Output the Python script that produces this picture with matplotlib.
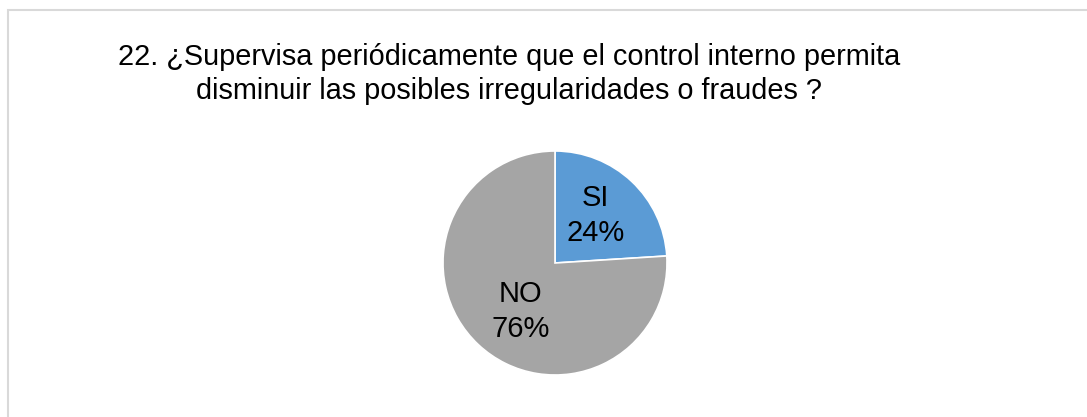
import matplotlib
matplotlib.use('Agg')
import matplotlib.pyplot as plt
from matplotlib.patches import Rectangle

plt.rcParams['font.family'] = ['Liberation Sans', 'DejaVu Sans']

# datos
categorias = ['SI', 'NO']
porcentajes = [24, 76]
colores = ['#5B9BD5', '#A5A5A5']
titulo = ['22. ¿Supervisa periódicamente que el control interno permita',
          'disminuir las posibles irregularidades o fraudes ?']

# posicion de cada etiqueta dentro del pastel (unidades del radio)
pos_etiquetas = [(0.36, 0.42), (-0.31, -0.43)]

W, H = 1087, 417
fig = plt.figure(figsize=(W / 100, H / 100), dpi=100)

# marco gris claro del area del grafico
fig.patches.append(Rectangle((8 / W, -0.1), 1.2, 1 - 10 / H + 0.1,
                             transform=fig.transFigure, fill=False,
                             edgecolor='#D9D9D9', linewidth=1.5))

# titulo en dos lineas centradas
for i, linea in enumerate(titulo):
    fig.text(509 / W, 1 - (57 + 34 * i) / H, linea, ha='center', va='center',
             fontsize=20.8, color='#000000')

R = 112
cx, cy = 555, 263
ax = fig.add_axes([(cx - R) / W, (H - cy - R) / H, 2 * R / W, 2 * R / H])
ax.pie(porcentajes, colors=colores, startangle=90, counterclock=False,
       wedgeprops=dict(edgecolor='white', linewidth=1.2), radius=1)
ax.set_xlim(-1, 1)
ax.set_ylim(-1, 1)
ax.set_aspect('equal')
ax.set_axis_off()

for cat, val, (x, y) in zip(categorias, porcentajes, pos_etiquetas):
    ax.text(x, y, f'{cat}\n{val}%', ha='center', va='center', fontsize=21,
            linespacing=1.32, color='#000000')

fig.savefig('out.png', dpi=100)
